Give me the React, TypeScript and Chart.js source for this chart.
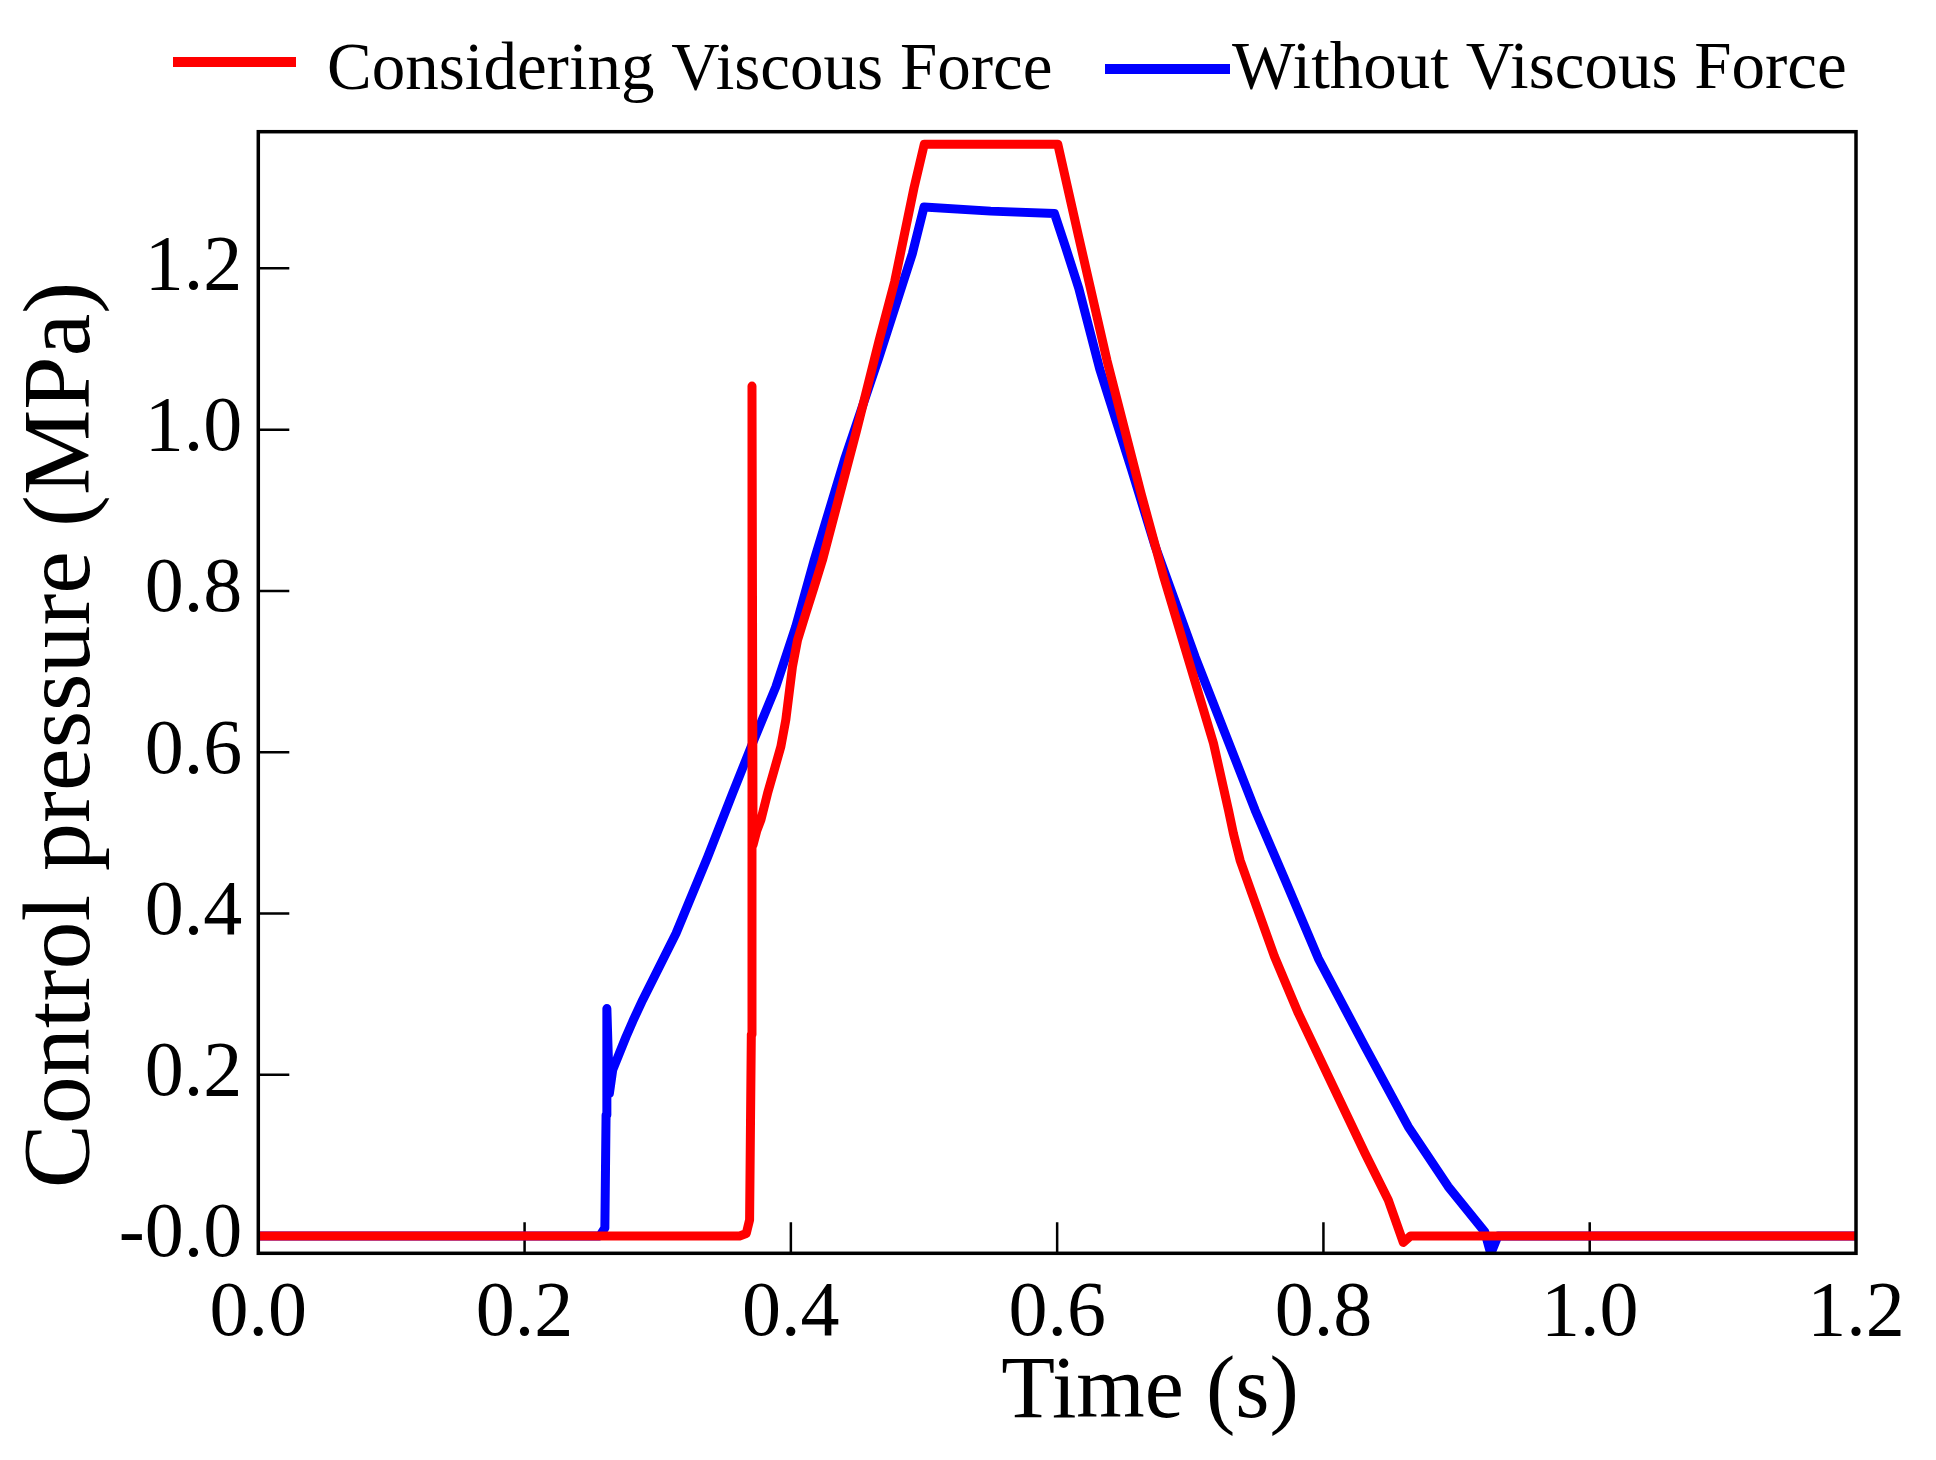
import React, { useEffect, useRef } from 'react';
import { Chart, registerables } from 'chart.js';

Chart.register(...registerables);

const RED = 'rgb(255, 0, 0)';
const BLUE = 'rgb(0, 0, 255)';
const FONT = "'Liberation Serif', 'Times New Roman', serif";

// Considering viscous force (red)
const viscousTime = [
  0, 0.3615, 0.3665, 0.369, 0.3703, 0.3708, 0.3716, 0.3745, 0.3775, 0.3825,
  0.3875, 0.3925, 0.3962, 0.3987, 0.4012, 0.405, 0.4112, 0.4175, 0.4237, 0.4492,
  0.4662, 0.478, 0.4925, 0.5002, 0.6005, 0.6162, 0.6374, 0.663, 0.68, 0.6987,
  0.7174, 0.7287, 0.7324, 0.7374, 0.7462, 0.7632, 0.7812, 0.8074, 0.8312, 0.8487,
  0.86, 0.8655, 1.2,
];
const viscousPressure = [
  0, 0, 0.003, 0.02, 0.25, 1.054, 0.485, 0.503, 0.516, 0.549,
  0.578, 0.607, 0.64, 0.673, 0.706, 0.739, 0.772, 0.805, 0.838, 0.998,
  1.11, 1.184, 1.3, 1.354, 1.354, 1.239, 1.086, 0.921, 0.8176, 0.7143,
  0.611, 0.528, 0.499, 0.466, 0.425, 0.3466, 0.276, 0.185, 0.1026, 0.0446,
  -0.008, 0, 0,
];

// Without viscous force (blue)
const plainTime = [
  0, 0.2565, 0.2603, 0.2612, 0.2618, 0.2637, 0.2662, 0.2712, 0.2762, 0.2812,
  0.2887, 0.3012, 0.3137, 0.3375, 0.3562, 0.3712, 0.3887, 0.4037, 0.4175, 0.4407,
  0.4662, 0.4912, 0.5, 0.55, 0.598, 0.6062, 0.6162, 0.632, 0.656, 0.6737,
  0.7037, 0.7262, 0.7487, 0.7712, 0.7962, 0.8312, 0.8637, 0.8937, 0.9212, 0.9257,
  0.931, 1.2,
];
const plainPressure = [
  0, 0, 0.01, 0.15, 0.282, 0.177, 0.206, 0.2266, 0.247, 0.266,
  0.2927, 0.334, 0.375, 0.47, 0.549, 0.611, 0.681, 0.756, 0.838, 0.965,
  1.09, 1.218, 1.276, 1.271, 1.268, 1.227, 1.1756, 1.075, 0.95, 0.855,
  0.718, 0.623, 0.528, 0.4415, 0.344, 0.2348, 0.1355, 0.0612, 0.005, -0.022,
  0, 0,
];

const seriesLabels = ['Considering Viscous Force', 'Without Viscous Force'];
const xTickValues = [0, 0.2, 0.4, 0.6, 0.8, 1.0, 1.2];
const xTickLabels = ['0.0', '0.2', '0.4', '0.6', '0.8', '1.0', '1.2'];
const yTickValues = [0, 0.2, 0.4, 0.6, 0.8, 1.0, 1.2];
const yTickLabels = ['-0.0', '0.2', '0.4', '0.6', '0.8', '1.0', '1.2'];
const xTitle = 'Time (s)';
const yTitle = 'Control pressure (MPa)';

// inward ticks, box frame, axis titles and legend
const framePlugin = {
  id: 'frame',
  beforeDatasetsDraw(chart: any) {
    const { ctx, chartArea: a, scales } = chart;
    ctx.save();
    ctx.strokeStyle = '#000';
    ctx.lineWidth = 2.5;
    ctx.beginPath();
    xTickValues.forEach((v) => {
      if (v <= scales.x.min || v >= scales.x.max) return;
      const px = scales.x.getPixelForValue(v);
      ctx.moveTo(px, a.bottom);
      ctx.lineTo(px, a.bottom - 31);
    });
    yTickValues.forEach((v) => {
      const py = scales.y.getPixelForValue(v);
      ctx.moveTo(a.left, py);
      ctx.lineTo(a.left + 31, py);
    });
    ctx.stroke();
    ctx.restore();
  },
  afterDatasetsDraw(chart: any) {
    const { ctx, chartArea: a } = chart;
    ctx.save();
    ctx.strokeStyle = '#000';
    ctx.lineWidth = 3.5;
    ctx.strokeRect(a.left, a.top, a.right - a.left, a.bottom - a.top);
    ctx.restore();
  },
  afterDraw(chart: any) {
    const { ctx } = chart;
    const ds = chart.data.datasets;
    ctx.save();
    ctx.fillStyle = '#000';
    ctx.textBaseline = 'alphabetic';

    ctx.font = `88px ${FONT}`;
    ctx.textAlign = 'center';
    ctx.fillText(xTitle, 1150, 1417);

    ctx.save();
    ctx.font = `96px ${FONT}`;
    ctx.translate(89, 735);
    ctx.rotate(-Math.PI / 2);
    ctx.fillText(yTitle, 0, 0);
    ctx.restore();

    ctx.font = `67px ${FONT}`;
    ctx.textAlign = 'left';
    ctx.fillStyle = ds[0].borderColor;
    ctx.fillRect(173, 57, 123, 10);
    ctx.fillStyle = ds[1].borderColor;
    ctx.fillRect(1105, 64, 125, 10);
    ctx.fillStyle = '#000';
    ctx.fillText(ds[0].label, 327, 89);
    ctx.fillText(ds[1].label, 1232, 88);
    ctx.restore();
  },
};

const PressureChart: React.FC = () => {
  const canvasRef = useRef<HTMLCanvasElement>(null);
  const chartRef = useRef<Chart | null>(null);

  useEffect(() => {
    document.body.style.margin = '0';
    if (!canvasRef.current) return;
    if (chartRef.current) chartRef.current.destroy();

    const tickFont = { family: FONT, size: 78 };
    const lineStyle = {
      borderWidth: 9,
      pointRadius: 0,
      tension: 0,
      fill: false,
      borderJoinStyle: 'round',
      borderCapStyle: 'round',
    };

    chartRef.current = new Chart(canvasRef.current, {
      type: 'line',
      data: {
        datasets: [
          {
            ...lineStyle,
            label: seriesLabels[0],
            data: viscousTime.map((t, i) => ({ x: t, y: viscousPressure[i] })),
            borderColor: RED,
            backgroundColor: RED,
          },
          {
            ...lineStyle,
            label: seriesLabels[1],
            data: plainTime.map((t, i) => ({ x: t, y: plainPressure[i] })),
            borderColor: BLUE,
            backgroundColor: BLUE,
          },
        ],
      },
      options: {
        animation: false,
        responsive: false,
        devicePixelRatio: 1,
        layout: { padding: { top: 131.7, right: 80, bottom: 0, left: 0 } },
        plugins: {
          legend: { display: false },
          tooltip: { enabled: false },
        },
        scales: {
          x: {
            type: 'linear',
            min: 0,
            max: 1.2,
            afterBuildTicks: (axis: any) => {
              axis.ticks = xTickValues.map((v) => ({ value: v }));
            },
            afterFit: (axis: any) => {
              axis.height = 206.7;
            },
            grid: { display: false, drawTicks: false },
            border: { display: false },
            ticks: {
              padding: 14,
              color: '#000',
              font: tickFont,
              maxRotation: 0,
              autoSkip: false,
              callback: (_v: any, i: number) => xTickLabels[i],
            },
          },
          y: {
            type: 'linear',
            min: -0.0215,
            max: 1.3695,
            afterBuildTicks: (axis: any) => {
              axis.ticks = yTickValues.map((v) => ({ value: v }));
            },
            afterFit: (axis: any) => {
              axis.width = 258.3;
            },
            grid: { display: false, drawTicks: false },
            border: { display: false },
            ticks: {
              padding: 16,
              color: '#000',
              font: tickFont,
              autoSkip: false,
              callback: (_v: any, i: number) => yTickLabels[i],
            },
          },
        },
      },
      plugins: [framePlugin],
    } as any);

    return () => {
      if (chartRef.current) {
        chartRef.current.destroy();
        chartRef.current = null;
      }
    };
  }, []);

  return (
    <div style={{ position: 'relative', width: 1936, height: 1460, background: '#fff' }}>
      <canvas ref={canvasRef} width={1936} height={1460}></canvas>
    </div>
  );
};

export default function App() {
  return <PressureChart />;
}
